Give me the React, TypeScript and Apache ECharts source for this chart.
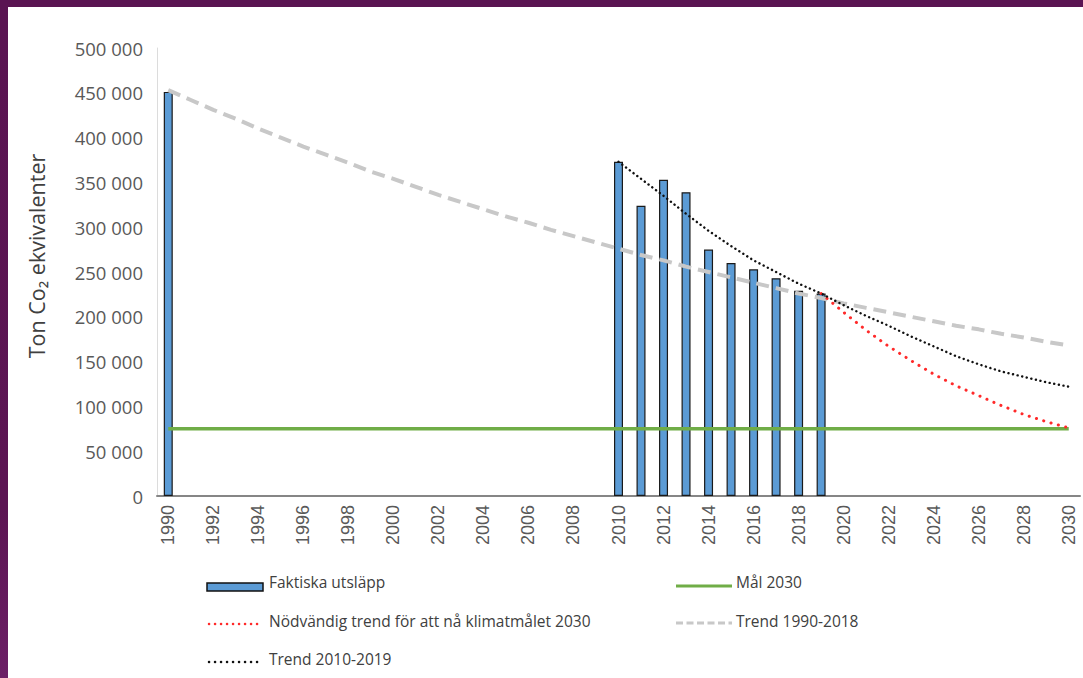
import React, { useEffect, useRef } from "react";
import * as echarts from "echarts";

const years = [
  "1990", "1991", "1992", "1993", "1994", "1995", "1996", "1997", "1998", "1999",
  "2000", "2001", "2002", "2003", "2004", "2005", "2006", "2007", "2008", "2009",
  "2010", "2011", "2012", "2013", "2014", "2015", "2016", "2017", "2018", "2019",
  "2020", "2021", "2022", "2023", "2024", "2025", "2026", "2027", "2028", "2029", "2030",
];

const barYears = ["1990", "2010", "2011", "2012", "2013", "2014", "2015", "2016", "2017", "2018", "2019"];
const barValues = [451000, 373000, 324000, 353000, 339000, 275000, 260000, 253000, 243000, 229000, 226000];

const goalYears = ["1990", "2030"];
const goalValues = [75000, 75000];

const trend1990Values = [
  453000, 442000, 431000, 421000, 410000, 400000, 390000, 381000, 372000, 362000,
  354000, 345000, 336000, 328000, 320000, 312000, 305000, 297000, 290000, 283000,
  276000, 269000, 263000, 256000, 250000, 244000, 238000, 232000, 226000, 221000,
  215000, 210000, 205000, 200000, 195000, 190000, 186000, 181000, 177000, 172000, 168000,
];

const needYears = ["2019", "2020", "2021", "2022", "2023", "2024", "2025", "2026", "2027", "2028", "2029", "2030"];
const needValues = [226000, 205000, 185000, 167000, 151000, 136000, 123000, 112000, 101000, 91000, 83000, 76000];

const trend2010Years = [
  "2010", "2011", "2012", "2013", "2014", "2015", "2016", "2017", "2018", "2019",
  "2020", "2021", "2022", "2023", "2024", "2025", "2026", "2027", "2028", "2029", "2030",
];
const trend2010Values = [
  373000, 354000, 335000, 315000, 296000, 279000, 263000, 250000, 237000, 226000,
  213000, 201000, 190000, 178000, 167000, 156000, 147000, 139000, 133000, 127000, 122000,
];

const yAxisTitle = "Ton Co₂ ekvivalenter";
const legendNames = {
  bars: "Faktiska utsläpp",
  goal: "Mål 2030",
  need: "Nödvändig trend för att nå klimatmålet 2030",
  trend1990: "Trend 1990-2018",
  trend2010: "Trend 2010-2019",
};

const pair = (xs: string[], vs: number[]) => xs.map((x, i) => [x, vs[i]]);

const fmt = (v: number) => String(v).replace(/\B(?=(\d{3})+(?!\d))/g, " ");

const LEG_FONT = '15.5px "Open Sans", "Noto Sans", sans-serif';
const LEG_COLOR = "#404040";

export default function App() {
  const ref = useRef<HTMLDivElement>(null);
  useEffect(() => {
    if (!ref.current) return;
    const chart = echarts.init(ref.current, undefined, { renderer: "svg" });
    chart.setOption({
      animation: false,
      backgroundColor: "#ffffff",
      grid: { left: 157, right: 3, top: 48, bottom: 182, containLabel: false },
      xAxis: {
        type: "category",
        data: years,
        boundaryGap: true,
        axisLine: { show: true, lineStyle: { color: "#868686", width: 2 } },
        axisTick: { show: false },
        axisLabel: {
          interval: 1,
          rotate: 90,
          margin: 9,
          color: "#595959",
          fontSize: 18,
          fontFamily: '"Liberation Sans", Arial, sans-serif',
        },
        splitLine: { show: false },
      },
      yAxis: {
        type: "value",
        min: 0,
        max: 500000,
        interval: 50000,
        axisLine: { show: true, lineStyle: { color: "#dcdcdc", width: 1 } },
        axisTick: { show: false },
        splitLine: { show: false },
        axisLabel: {
          formatter: (v: number) => fmt(v),
          margin: 14,
          color: "#595959",
          fontSize: 18.5,
          fontFamily: '"Open Sans", "Noto Sans", sans-serif',
        },
      },
      series: [
        {
          name: legendNames.bars,
          type: "bar",
          data: pair(barYears, barValues),
          barWidth: 9,
          itemStyle: { color: "#5b9bd5", borderColor: "#1a1a1a", borderWidth: 1.2 },
          z: 2,
        },
        {
          name: legendNames.goal,
          type: "line",
          data: pair(goalYears, goalValues),
          symbol: "none",
          lineStyle: { color: "#70ad47", width: 3.5 },
          z: 3,
        },
        {
          name: legendNames.trend1990,
          type: "line",
          data: pair(years, trend1990Values),
          symbol: "none",
          lineStyle: { color: "#c8c8c8", width: 4, type: [13, 7] },
          z: 4,
        },
        {
          name: legendNames.need,
          type: "line",
          data: pair(needYears, needValues),
          symbol: "none",
          lineStyle: { color: "#ff2a2a", width: 3, type: [0.1, 7.5], cap: "round" },
          z: 5,
        },
        {
          name: legendNames.trend2010,
          type: "line",
          data: pair(trend2010Years, trend2010Values),
          symbol: "none",
          lineStyle: { color: "#111111", width: 2.4, type: [0.1, 4.6], cap: "round" },
          z: 6,
        },
      ],
      graphic: [
        { type: "rect", shape: { x: 0, y: 0, width: 1083, height: 7 }, style: { fill: "#5a1452" }, z: 100 },
        {
          type: "rect",
          shape: { x: 0, y: 0, width: 8, height: 678 },
          style: {
            fill: new echarts.graphic.LinearGradient(0, 0, 0, 1, [
              { offset: 0, color: "#5a1452" },
              { offset: 0.75, color: "#5c1553" },
              { offset: 1, color: "#6c1f66" },
            ]),
          },
          z: 100,
        },
        {
          type: "text",
          x: 36,
          y: 256,
          rotation: Math.PI / 2,
          style: {
            text: yAxisTitle,
            font: '21.5px "Open Sans", "Noto Sans", sans-serif',
            fill: "#404040",
            align: "center",
            verticalAlign: "middle",
          },
        },
        // legend: left column
        {
          type: "rect",
          shape: { x: 207, y: 583, width: 56, height: 8 },
          style: { fill: "#5b9bd5", stroke: "#111111", lineWidth: 1.5 },
        },
        { type: "text", x: 269, y: 582, style: { text: legendNames.bars, font: LEG_FONT, fill: LEG_COLOR, verticalAlign: "middle" } },
        {
          type: "line",
          shape: { x1: 209, y1: 624, x2: 263, y2: 624 },
          style: { stroke: "#ff2a2a", lineWidth: 2.5, lineDash: [0.1, 5.9], lineCap: "round" },
        },
        { type: "text", x: 269, y: 621, style: { text: legendNames.need, font: LEG_FONT, fill: LEG_COLOR, verticalAlign: "middle" } },
        {
          type: "line",
          shape: { x1: 209, y1: 662, x2: 263, y2: 662 },
          style: { stroke: "#111111", lineWidth: 2.5, lineDash: [0.1, 5.9], lineCap: "round" },
        },
        { type: "text", x: 269, y: 659, style: { text: legendNames.trend2010, font: LEG_FONT, fill: LEG_COLOR, verticalAlign: "middle" } },
        // legend: right column
        {
          type: "line",
          shape: { x1: 676, y1: 586, x2: 732, y2: 586 },
          style: { stroke: "#70ad47", lineWidth: 3 },
        },
        { type: "text", x: 736, y: 582, style: { text: legendNames.goal, font: LEG_FONT, fill: LEG_COLOR, verticalAlign: "middle" } },
        {
          type: "line",
          shape: { x1: 676, y1: 623, x2: 732, y2: 623 },
          style: { stroke: "#c8c8c8", lineWidth: 3, lineDash: [7, 3.5] },
        },
        { type: "text", x: 736, y: 621, style: { text: legendNames.trend1990, font: LEG_FONT, fill: LEG_COLOR, verticalAlign: "middle" } },
      ],
    });
    return () => chart.dispose();
  }, []);
  return (
    <div
      ref={ref}
      style={{ position: "absolute", left: 0, top: 0, width: 1083, height: 678 }}
    />
  );
}
